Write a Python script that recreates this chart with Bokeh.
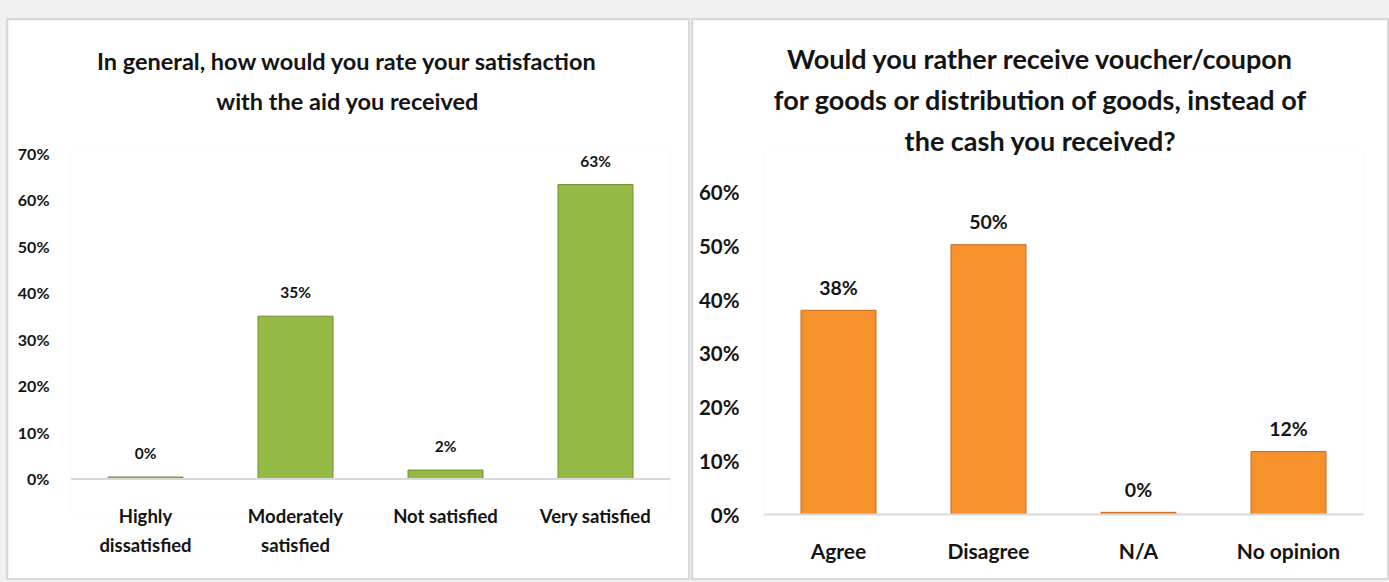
from bokeh.plotting import figure
from bokeh.layouts import row, column
from bokeh.models import (ColumnDataSource, PrintfTickFormatter, SingleIntervalTicker,
                          Spacer, Title, Span)
from bokeh.core.properties import value
from bokeh.embed import file_html
from bokeh.resources import INLINE

FONT = "Lato"
TXT = "#141414"

# ---- data ----
sat_categories = ["Highly\ndissatisfied", "Moderately\nsatisfied", "Not satisfied", "Very satisfied"]
sat_values = [0.4, 35.0, 1.9, 63.3]
sat_labels = ["0%", "35%", "2%", "63%"]

pref_categories = ["Agree", "Disagree", "N/A", "No opinion"]
pref_values = [38.0, 50.2, 0.4, 11.7]
pref_labels = ["38%", "50%", "0%", "12%"]

sat_title_lines = ["In general, how would you rate your satisfaction", "with the aid you received", ""]
pref_title_lines = ["Would you rather receive voucher/coupon",
                    "for goods or distribution of goods, instead of",
                    "the cash you received?"]


def add_titles(p, lines, pad, size, standoffs):
    # Titles added later sit further from the frame, so add from the last line up.
    for line, so in reversed(list(zip(lines, standoffs))):
        p.add_layout(Title(text=line + "\u00a0" * pad, align="center", vertical_align="middle",
                           standoff=so, text_font=FONT, text_font_size=size,
                           text_font_style="bold", text_color=TXT), "above")


def make_chart(cats, vals, labels, title_lines, pad, title_size, standoffs,
               y_start, y_end, width, height, fill, edge,
               mb_left, mb_right, x_standoff, y_standoff, show_axis_line,
               tick_size, xlab_size, dlab_size, dlab_offset):
    src = ColumnDataSource(dict(x=cats, top=vals, label=labels))
    p = figure(x_range=cats, y_range=(y_start, y_end), width=width, height=height,
               output_backend="svg", toolbar_location=None, tools="",
               min_border_left=mb_left, min_border_right=mb_right,
               min_border_top=130, min_border_bottom=64)
    add_titles(p, title_lines, pad, title_size, standoffs)
    p.background_fill_color = "white"
    p.border_fill_color = "white"
    p.outline_line_color = None
    p.xgrid.grid_line_color = None
    p.ygrid.grid_line_color = None

    if not show_axis_line:
        p.add_layout(Span(location=0, dimension="width", line_color="#d9d9d9", line_width=2))

    p.vbar(x="x", top="top", bottom=0, width=0.5, source=src, fill_color=fill,
           line_color=edge, line_width=1)
    p.text(x="x", y="top", text="label", source=src, text_align="center",
           text_baseline="alphabetic", y_offset=dlab_offset, text_font=value(FONT),
           text_font_size=dlab_size, text_font_style="bold", text_color=TXT)

    p.yaxis.ticker = SingleIntervalTicker(interval=10)
    p.yaxis.formatter = PrintfTickFormatter(format="%d%%")
    p.yaxis.axis_line_color = None
    p.yaxis.major_tick_line_color = None
    p.yaxis.minor_tick_line_color = None
    p.yaxis.major_label_standoff = y_standoff
    p.yaxis.major_label_text_font = FONT
    p.yaxis.major_label_text_font_size = tick_size
    p.yaxis.major_label_text_font_style = "bold"
    p.yaxis.major_label_text_color = TXT

    p.xaxis.axis_line_color = "#d9d9d9" if show_axis_line else None
    p.xaxis.axis_line_width = 2
    p.xaxis.major_tick_line_color = None
    p.xaxis.minor_tick_line_color = None
    p.xaxis.major_label_standoff = x_standoff
    p.xaxis.major_label_text_font = FONT
    p.xaxis.major_label_text_font_size = xlab_size
    p.xaxis.major_label_text_font_style = "bold"
    p.xaxis.major_label_text_color = TXT
    p.xaxis.major_label_text_line_height = 1.32
    return p


p1 = make_chart(sat_categories, sat_values, sat_labels, sat_title_lines, 8, "23.5px", [-11, 31, -11],
                -7.66, 70.64, 680, 558, "#95ba46", "#6f8f2e", 62, 18, -16, 15, False,
                "16px", "18.5px", "15.5px", -24)
p2 = make_chart(pref_categories, pref_values, pref_labels, pref_title_lines, 7, "27px", [-15, 27, -15],
                0, 67.73, 694, 558, "#f6912b", "#c8691c", 70, 24, 17, 18, True,
                "20.5px", "21px", "19.5px", -23)

BG = {"background-color": "#f0f0f0"}
BD = {"background-color": "#d9d9d9"}


def framed(p, w, h):
    return column(
        Spacer(width=w + 4, height=2, styles=BD),
        row(Spacer(width=2, height=h, styles=BD), p, Spacer(width=2, height=h, styles=BD)),
        Spacer(width=w + 4, height=2, styles=BD),
    )


layout = column(
    Spacer(width=1389, height=18, styles=BG),
    row(Spacer(width=6, height=562, styles=BG), framed(p1, 680, 558),
        Spacer(width=1, height=562, styles=BG), framed(p2, 694, 558), styles=BG),
    Spacer(width=1389, height=2, styles=BG),
    styles=BG,
)

open("out.html", "w").write(file_html(layout, INLINE))
